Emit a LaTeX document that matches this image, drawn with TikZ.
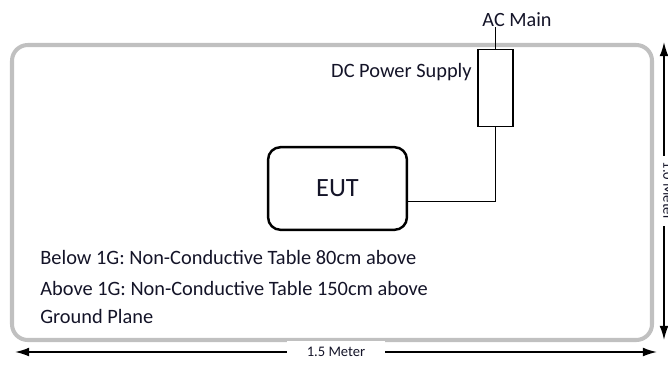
\documentclass[tikz,border=0pt]{standalone}
\usepackage{fontspec}
\setmainfont{Carlito}
\usepackage{xcolor}
\usepackage{tikz}
\usetikzlibrary{arrows.meta}
\usetikzlibrary{calc}
\definecolor{tablegray}{RGB}{192,192,192}
\definecolor{inktext}{RGB}{20,20,40}
\tikzset{
  table frame/.style={draw=tablegray, line width=2.3pt, rounded corners=9pt},
  eutbox/.style={draw=black, line width=1.4pt, rounded corners=7pt, minimum width=79pt, minimum height=47pt, font=\fontsize{15}{18}\selectfont, text=inktext},
  psubox/.style={draw=black, line width=0.7pt, minimum width=20pt, minimum height=44pt, inner sep=0pt},
  wire/.style={draw=black, line width=0.6pt},
  dimline/.style={line width=0.9pt, arrows = {Latex[length=8pt, width=5pt]-Latex[length=8pt, width=5pt]}},
  dimlabel/.style={fill=white, font=\fontsize{8.3}{9}\selectfont, text=inktext},
  note/.style={anchor=base west, inner sep=0pt, font=\fontsize{11.6}{13}\selectfont, text=inktext},
}
\begin{document}
\begin{tikzpicture}[x=0.02cm, y=-0.02cm]
\useasboundingbox (0,0) rectangle (668,365);
\draw [table frame] (12,45) rectangle (652,340);
\node [psubox] (dcps) at (495.5,88) {};
\node [anchor=base, inner sep=0pt, font=\fontsize{11.5}{13}\selectfont, text=inktext] (acmain) at (517,26) {AC Main};
\node [anchor=base east, inner sep=0pt, font=\fontsize{11.6}{13}\selectfont, text=inktext] (dclabel) at (472,77) {DC Power Supply};
\node [eutbox] (eut) at (337.5,188.5) {EUT};
\draw [wire] (acmain.south -| dcps.north) ++(0,1) -- (dcps.north);
\draw [wire] (dcps.south) |- ([yshift=-7.5pt]eut.east);
\node [note] (below) at (40,264) {Below 1G: Non-Conductive Table 80cm above};
\node [note] (above) at (40,295) {Above 1G: Non-Conductive Table 150cm above};
\node [note] (ground) at (40,323) {Ground Plane};
\coordinate (wleft) at (15,352);
\coordinate (wright) at (657,352);
\draw [dimline] (wleft) -- (wright) node [dimlabel, inner xsep=11pt, pos=0.5] (width) {1.5 Meter};
\coordinate (htop) at (664,42);
\coordinate (hbottom) at (664,340);
\draw [dimline] (htop) -- (hbottom);
\node [dimlabel, inner xsep=3pt, inner ysep=1pt, rotate=-90] (height) at (668,191) {1.0 Meter};
\end{tikzpicture}
\end{document}
